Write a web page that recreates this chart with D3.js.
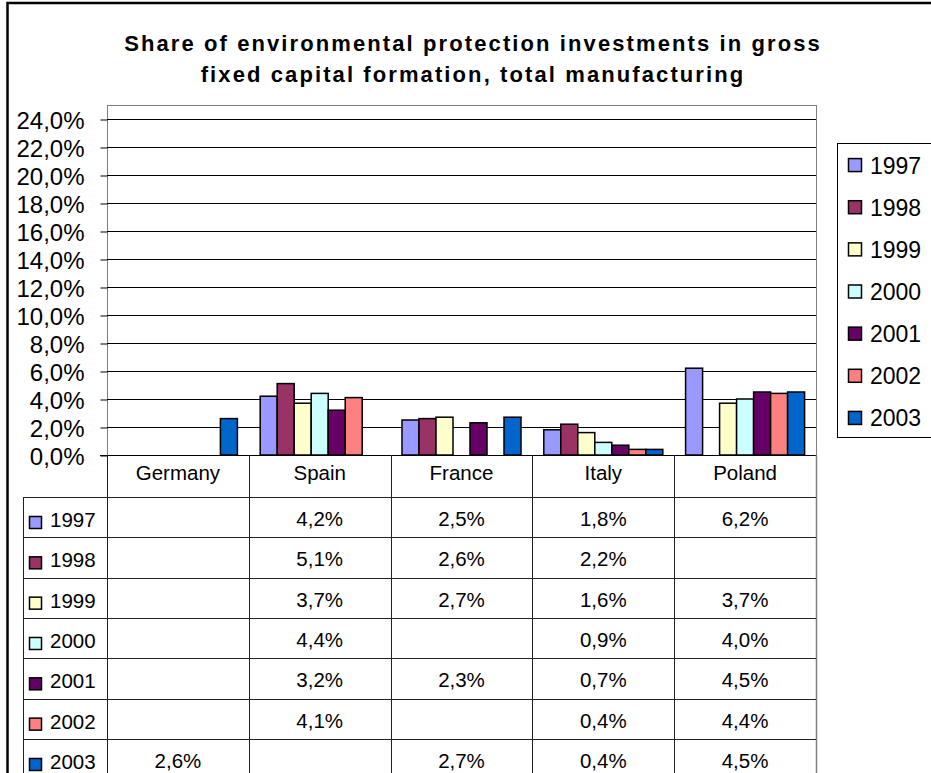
<!DOCTYPE html>
<html>
<head>
<meta charset="utf-8">
<script src="https://cdn.jsdelivr.net/npm/d3@7"></script>
<style>
  body { margin: 0; background: #fff; }
  svg { display: block; font-family: "Liberation Sans", Arial, sans-serif; }
</style>
</head>
<body>
<svg id="chart" width="931" height="773"></svg>
<script>
// categories and series (values in %, null = no data)
const categories = ["Germany", "Spain", "France", "Italy", "Poland"];
const years = ["1997", "1998", "1999", "2000", "2001", "2002", "2003"];
const v1997 = [null, 4.2, 2.5, 1.8, 6.2];
const v1998 = [null, 5.1, 2.6, 2.2, null];
const v1999 = [null, 3.7, 2.7, 1.6, 3.7];
const v2000 = [null, 4.4, null, 0.9, 4.0];
const v2001 = [null, 3.2, 2.3, 0.7, 4.5];
const v2002 = [null, 4.1, null, 0.4, 4.4];
const v2003 = [2.6, null, 2.7, 0.4, 4.5];
const yTicks = [0, 2, 4, 6, 8, 10, 12, 14, 16, 18, 20, 22, 24];
const titleLines = ["Share of environmental protection investments in gross",
                    "fixed capital formation, total manufacturing"];

const seriesColors = ["#9999FF", "#993366", "#FFFFCC", "#CCFFFF", "#660066", "#FF8080", "#0066CC"];

const series = years.map((y, i) => ({
    year: y,
    color: seriesColors[i],
    values: [v1997, v1998, v1999, v2000, v2001, v2002, v2003][i]
}));

// decimal comma, like the original
const locale = d3.formatLocale({decimal: ",", thousands: ".", grouping: [3], currency: ["", " €"]});
const fmt = locale.format(".1f");
const pct = v => fmt(v) + "%";

const margin = {left: 107, top: 105, right: 816, bottom: 455};

const svg = d3.select("#chart");

// outer frame
svg.append("rect")
    .attr("x", 7.5).attr("y", 3)
    .attr("width", 960).attr("height", 800)
    .attr("fill", "none")
    .attr("stroke", "#000")
    .attr("stroke-width", 2.5);

// title
svg.append("g").selectAll("text")
    .data(titleLines)
    .enter().append("text")
    .attr("x", 473)
    .attr("y", (d, i) => 51 + i * 31)
    .attr("text-anchor", "middle")
    .style("font-size", "22px")
    .style("font-weight", "bold")
    .style("letter-spacing", "2.1px")
    .text(d => d);

// scales
const xScale = d3.scaleBand().domain(categories).range([margin.left, margin.right]);
const xInner = d3.scaleBand().domain(years).range([0, xScale.bandwidth()]).paddingOuter(0.67);
const yScale = d3.scaleLinear().domain([0, 25]).range([margin.bottom, margin.top]);

// plot area border
svg.append("rect")
    .attr("x", margin.left + 0.5).attr("y", margin.top + 0.5)
    .attr("width", margin.right - margin.left).attr("height", margin.bottom - margin.top)
    .attr("fill", "none")
    .attr("stroke", "#808080");

// gridlines
svg.append("g").selectAll("line")
    .data(yTicks.filter(d => d > 0))
    .enter().append("line")
    .attr("x1", margin.left).attr("x2", margin.right)
    .attr("y1", d => Math.round(yScale(d)) + 0.5)
    .attr("y2", d => Math.round(yScale(d)) + 0.5)
    .attr("stroke", "#000");

// y axis
const yAxis = svg.append("g")
    .attr("transform", `translate(${margin.left + 0.5},0.5)`)
    .call(d3.axisLeft(yScale).tickValues(yTicks).tickSize(7).tickPadding(16).tickFormat(pct));
yAxis.select(".domain").remove();
yAxis.selectAll("text")
    .style("font-size", "24px")
    .style("font-family", "'Liberation Sans', Arial, sans-serif")
    .attr("fill", "#000")
    .attr("dy", "0.36em");

// bars
const groups = svg.append("g").selectAll("g")
    .data(series)
    .enter().append("g")
    .attr("fill", d => d.color);

groups.selectAll("rect")
    .data(d => d.values.map((v, j) => ({year: d.year, cat: categories[j], value: v})).filter(d => d.value != null))
    .enter().append("rect")
    .attr("x", d => xScale(d.cat) + xInner(d.year))
    .attr("width", xInner.bandwidth())
    .attr("y", d => yScale(d.value))
    .attr("height", d => yScale(0) - yScale(d.value))
    .attr("stroke", "#000")
    .attr("stroke-width", 1.5);

// zero line
svg.append("line")
    .attr("x1", margin.left - 7).attr("x2", margin.right)
    .attr("y1", margin.bottom + 0.5).attr("y2", margin.bottom + 0.5)
    .attr("stroke", "#000");

// data table
const tableLeft = 23;
const headerBottom = 497;
const rowScale = d3.scaleBand().domain(years).range([headerBottom, headerBottom + 7 * 40.33]);
const lineColor = "#222";
const table = svg.append("g");

// column separators
const colEdges = categories.map(c => xScale(c)).concat([margin.right]);
table.selectAll(".col")
    .data(colEdges)
    .enter().append("line")
    .attr("class", "col")
    .attr("x1", d => Math.round(d) + 0.5).attr("x2", d => Math.round(d) + 0.5)
    .attr("y1", margin.bottom).attr("y2", 800)
    .attr("stroke", (d, i) => i === colEdges.length - 1 ? "#808080" : lineColor)
    .attr("stroke-width", (d, i) => i === colEdges.length - 1 ? 1.5 : 1);

table.append("line")
    .attr("x1", tableLeft + 0.5).attr("x2", tableLeft + 0.5)
    .attr("y1", headerBottom).attr("y2", 800)
    .attr("stroke", lineColor);

// row separators
table.selectAll(".row")
    .data(years)
    .enter().append("line")
    .attr("class", "row")
    .attr("x1", tableLeft).attr("x2", margin.right)
    .attr("y1", d => Math.round(rowScale(d)) + 0.5)
    .attr("y2", d => Math.round(rowScale(d)) + 0.5)
    .attr("stroke", lineColor);

// category header
table.selectAll(".cat")
    .data(categories)
    .enter().append("text")
    .attr("class", "cat")
    .attr("x", d => xScale(d) + xScale.bandwidth() / 2)
    .attr("y", 480)
    .attr("text-anchor", "middle")
    .style("font-size", "20.5px")
    .text(d => d);

// row keys
const rows = table.selectAll(".rowkey")
    .data(series)
    .enter().append("g")
    .attr("class", "rowkey")
    .attr("transform", d => `translate(0,${rowScale(d.year)})`);

rows.append("rect")
    .attr("x", 29.5).attr("y", 19.5)
    .attr("width", 12).attr("height", 12)
    .attr("fill", d => d.color)
    .attr("stroke", "#000")
    .attr("stroke-width", 1.5);

rows.append("text")
    .attr("x", 50).attr("y", 30)
    .style("font-size", "20.5px")
    .text(d => d.year);

rows.selectAll(".val")
    .data(d => d.values.map((v, j) => ({cat: categories[j], value: v})).filter(d => d.value != null))
    .enter().append("text")
    .attr("class", "val")
    .attr("x", d => xScale(d.cat) + xScale.bandwidth() / 2)
    .attr("y", 29)
    .attr("text-anchor", "middle")
    .style("font-size", "20.5px")
    .text(d => pct(d.value));

// legend
const legendScale = d3.scaleBand().domain(years).range([144, 439]);
svg.append("rect")
    .attr("x", 837.5).attr("y", 143.5)
    .attr("width", 140).attr("height", 294)
    .attr("fill", "#fff")
    .attr("stroke", "#000");

const legend = svg.append("g").selectAll("g")
    .data(series)
    .enter().append("g")
    .attr("transform", d => `translate(0,${legendScale(d.year) + legendScale.bandwidth() / 2})`);

legend.append("rect")
    .attr("x", 848.5).attr("y", -6.5)
    .attr("width", 13).attr("height", 13)
    .attr("fill", d => d.color)
    .attr("stroke", "#000")
    .attr("stroke-width", 1.5);

legend.append("text")
    .attr("x", 870).attr("y", 8.5)
    .style("font-size", "23px")
    .text(d => d.year);
</script>
</body>
</html>
